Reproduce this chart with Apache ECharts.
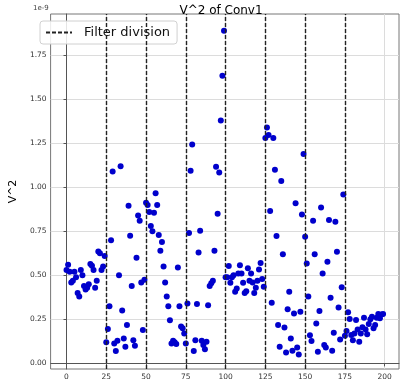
<!DOCTYPE html>
<html>
<head>
<meta charset="utf-8">
<script src="https://cdn.jsdelivr.net/npm/echarts@6/dist/echarts.min.js"></script>
<style>
    html, body { margin: 0; padding: 0; background: #fff; }
    #chart { width: 400px; height: 385px; }
</style>
</head>
<body>
<div id="chart"></div>
<script>
    // values in units of 1e-9, one per filter index 0..199
    const seg0 = [0.53, 0.56, 0.52, 0.46, 0.47, 0.52, 0.49, 0.40, 0.38, 0.53, 0.50, 0.44, 0.42, 0.43, 0.45, 0.565, 0.555, 0.53, 0.43, 0.47, 0.635, 0.625, 0.53, 0.55, 0.61];
    const seg1 = [0.12, 0.195, 0.325, 0.70, 1.09, 0.113, 0.07, 0.128, 0.50, 1.12, 0.30, 0.142, 0.094, 0.218, 0.895, 0.725, 0.44, 0.132, 0.10, 0.60, 0.84, 0.81, 0.46, 0.19, 0.475];
    const seg2 = [0.913, 0.90, 0.86, 0.78, 0.75, 0.856, 0.966, 0.90, 0.73, 0.64, 0.69, 0.55, 0.46, 0.38, 0.325, 0.245, 0.113, 0.128, 0.12, 0.11, 0.545, 0.325, 0.21, 0.20, 0.17];
    const seg3 = [0.113, 0.34, 0.74, 1.094, 1.244, 0.07, 0.132, 0.337, 0.63, 0.753, 0.128, 0.104, 0.08, 0.123, 0.33, 0.44, 0.455, 0.47, 0.64, 1.117, 0.85, 1.085, 1.38, 1.634, 1.89];
    const seg4 = [0.49, 0.49, 0.553, 0.458, 0.49, 0.50, 0.407, 0.426, 0.51, 0.558, 0.51, 0.458, 0.40, 0.41, 0.54, 0.47, 0.51, 0.46, 0.40, 0.43, 0.47, 0.534, 0.57, 0.48, 0.435];
    const seg5 = [1.28, 1.34, 1.297, 0.865, 0.344, 1.28, 1.10, 0.723, 0.218, 0.094, 1.036, 0.62, 0.204, 0.062, 0.308, 0.407, 0.142, 0.072, 0.284, 0.91, 0.09, 0.051, 0.293, 0.846, 1.19];
    const seg6 = [0.72, 0.568, 0.38, 0.16, 0.127, 0.81, 0.62, 0.227, 0.066, 0.297, 0.886, 0.511, 0.104, 0.09, 0.577, 0.814, 0.373, 0.072, 0.174, 0.805, 0.634, 0.318, 0.136, 0.432, 0.96];
    const seg7 = [0.157, 0.184, 0.29, 0.252, 0.161, 0.132, 0.17, 0.246, 0.193, 0.123, 0.17, 0.205, 0.259, 0.193, 0.166, 0.223, 0.25, 0.265, 0.199, 0.218, 0.259, 0.28, 0.256, 0.278, 0.28];
    const divisions = [25, 50, 75, 100, 125, 150, 175];
    const xTicks = [0, 25, 50, 75, 100, 125, 150, 175, 200];
    const yTicks = [0, 0.25, 0.5, 0.75, 1.0, 1.25, 1.5, 1.75];

    const values = [].concat(seg0, seg1, seg2, seg3, seg4, seg5, seg6, seg7);
    const points = values.map((v, i) => [i, v]);

    let myChart = echarts.init(document.getElementById('chart'));
    let font = 'DejaVu Sans';
    let option = {
        animation: false,
        textStyle: {fontFamily: font},
        title: {
            text: 'V^2 of Conv1',
            left: 216,
            textAlign: 'center',
            top: 0,
            textStyle: {fontSize: 12, fontWeight: 'normal', color: '#000', fontFamily: font}
        },
        graphic: [{
            type: 'text',
            left: 33,
            top: 5,
            style: {text: '1e-9', fontSize: 7, fill: '#444', fontFamily: font}
        }],
        legend: {
            left: 40,
            top: 21,
            padding: [5, 7, 5, 5],
            itemWidth: 26,
            itemHeight: 10,
            backgroundColor: 'rgba(255,255,255,0.85)',
            borderColor: '#d0d0d0',
            borderWidth: 1,
            borderRadius: 3,
            itemStyle: {opacity: 0},
            data: ['Filter division'],
            textStyle: {fontSize: 13, color: '#111', fontFamily: font, padding: [0, 0, 0, 7]}
        },
        grid: {
            left: 33,
            right: 1,
            top: 14,
            bottom: 16,
            show: true,
            borderColor: '#777',
            borderWidth: 1
        },
        xAxis: {
            type: 'value',
            min: -10,
            max: 209,
            axisLine: {lineStyle: {color: '#555'}},
            axisTick: {show: true, length: 3, customValues: xTicks, lineStyle: {color: '#555'}},
            axisLabel: {fontSize: 7.5, color: '#333', margin: 4, customValues: xTicks},
            splitLine: {show: true, lineStyle: {color: '#dcdcdc', width: 1}}
        },
        yAxis: {
            type: 'value',
            min: -0.032,
            max: 1.985,
            name: 'V^2',
            nameLocation: 'middle',
            nameGap: 30,
            nameTextStyle: {fontSize: 11, color: '#000', fontFamily: font},
            axisLine: {show: true, lineStyle: {color: '#555'}},
            axisTick: {show: true, length: 3, customValues: yTicks, lineStyle: {color: '#555'}},
            axisLabel: {
                fontSize: 7.5, color: '#333', margin: 4,
                customValues: yTicks,
                formatter: v => v.toFixed(2)
            },
            splitLine: {show: true, lineStyle: {color: '#dcdcdc', width: 1}}
        },
        series: [
            {
                name: 'Filter division',
                type: 'line',
                data: [],
                symbol: 'none',
                lineStyle: {type: [4, 2], color: '#222', width: 1.4},
                itemStyle: {color: '#222'},
                markLine: {
                    silent: true,
                    symbol: 'none',
                    label: {show: false},
                    lineStyle: {type: [4, 2], color: '#222', width: 1.4},
                    data: divisions.map(d => ({xAxis: d}))
                }
            },
            {
                name: 'V^2',
                type: 'scatter',
                symbolSize: 6,
                itemStyle: {color: '#0000cc', opacity: 1},
                data: points
            }
        ]
    };
    myChart.setOption(option);
</script>
</body>
</html>
